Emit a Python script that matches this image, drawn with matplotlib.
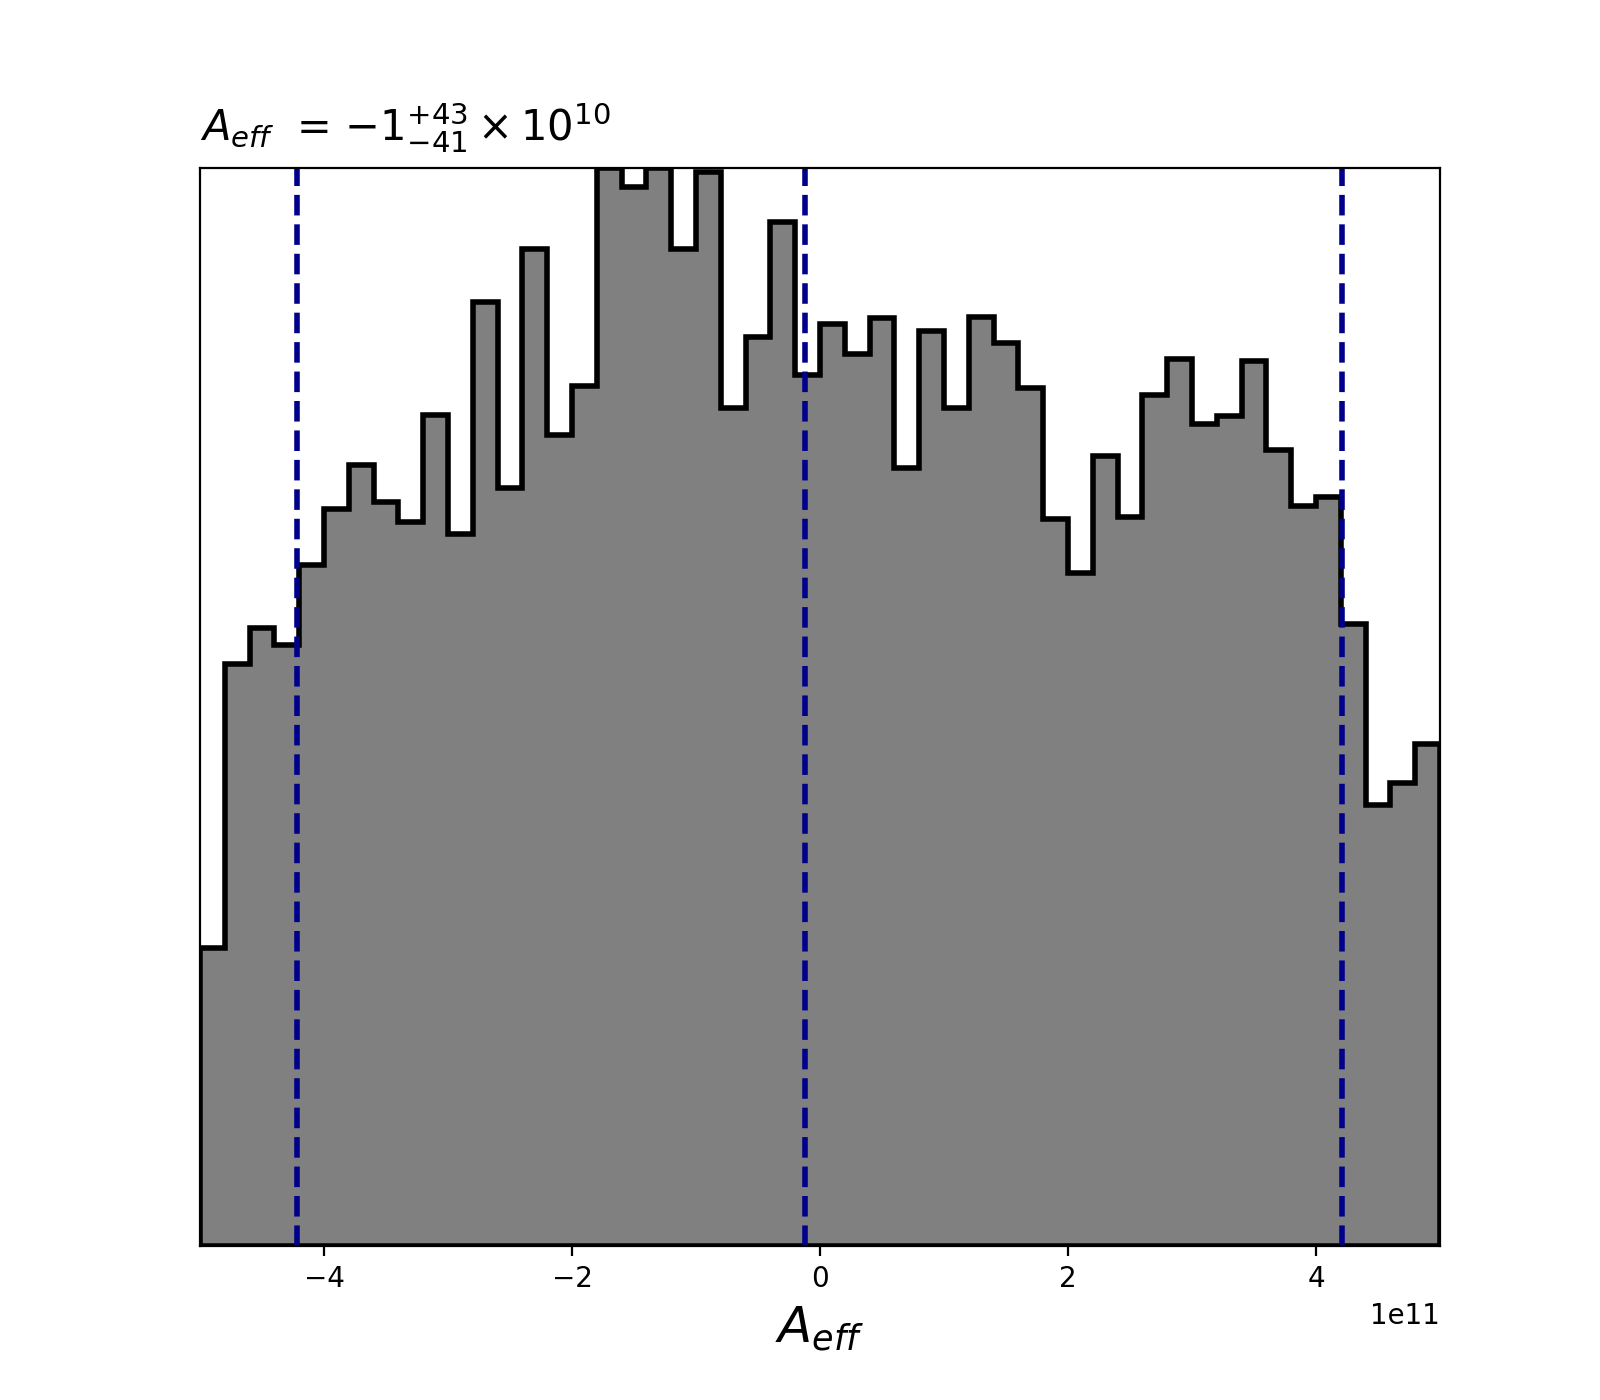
import numpy as np
import matplotlib
matplotlib.use("Agg")
import matplotlib.pyplot as plt

# histogram of A_eff samples, 50 bins over [-5e11, 5e11]
bin_lo = -5e11
bin_hi = 5e11
n_bins = 50
counts = [292, 570, 605, 588, 666, 721, 764, 728, 709, 813,
          697, 924, 742, 976, 794, 842, 1055, 1036, 1055, 976,
          1051, 820, 890, 1002, 852, 902, 873, 908, 761, 895,
          820, 909, 884, 840, 711, 659, 773, 713, 833, 868,
          804, 812, 866, 779, 724, 733, 609, 432, 453, 491]

# quantiles (16%, 50%, 84%)
q_lo = -4.22e11
q_med = -1.2e10
q_hi = 4.21e11

edges = np.linspace(bin_lo, bin_hi, n_bins + 1)
centers = 0.5 * (edges[1:] + edges[:-1])

fig, ax = plt.subplots(figsize=(8, 7), dpi=200)
ax.hist(centers, bins=edges, weights=counts, histtype='stepfilled',
        facecolor='grey', edgecolor='black', linewidth=2)

for q in [q_lo, q_med, q_hi]:
    ax.axvline(q, ls='--', color='darkblue', lw=2)

ax.set_xlim(bin_lo, bin_hi)
ax.set_ylim(0, max(counts))
ax.set_yticks([])
ax.set_xlabel(r'$A_{eff}$', fontsize=18)
ax.set_title(r'$A_{eff}$  = $-1_{-41}^{+43}\times 10^{10}$', loc='left',
             fontsize=15, pad=9.5)

plt.savefig('out.png')
